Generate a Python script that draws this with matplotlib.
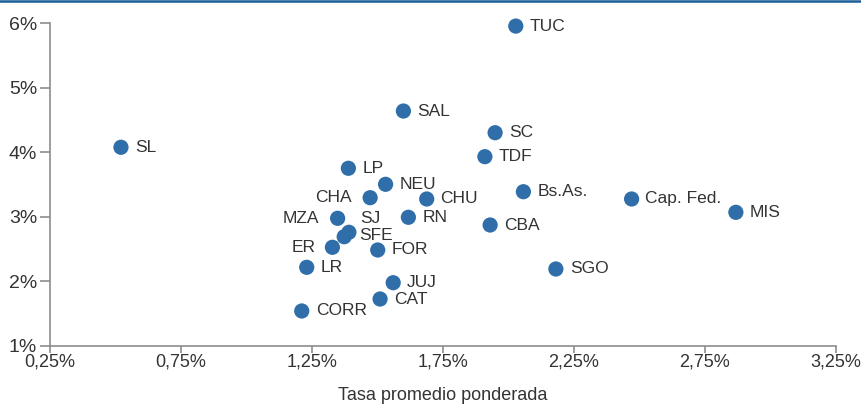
import matplotlib
matplotlib.use("Agg")
import matplotlib.pyplot as plt
from matplotlib.lines import Line2D

plt.rcParams['font.family'] = ['Liberation Sans Narrow', 'Liberation Sans', 'DejaVu Sans']

labels = ["TUC", "SAL", "SC", "TDF", "SL", "LP", "NEU", "CHA", "CHU", "Bs.As.",
          "Cap. Fed.", "MIS", "MZA", "RN", "CBA", "SJ", "SFE", "ER", "FOR", "LR",
          "SGO", "JUJ", "CAT", "CORR"]
tasa = [2.029, 1.600, 1.950, 1.911, 0.522, 1.390, 1.532, 1.473, 1.689, 2.058,
        2.471, 2.869, 1.349, 1.619, 1.931, 1.392, 1.374, 1.329, 1.502, 1.231,
        2.182, 1.561, 1.511, 1.212]
yval = [5.96, 4.641, 4.304, 3.932, 4.078, 3.752, 3.503, 3.295, 3.275, 3.388,
        3.275, 3.068, 2.975, 2.991, 2.871, 2.758, 2.689, 2.525, 2.483, 2.214,
        2.188, 1.975, 1.722, 1.536]

xticks = [0.25, 0.75, 1.25, 1.75, 2.25, 2.75, 3.25]
xticklabels = ["0,25%", "0,75%", "1,25%", "1,75%", "2,25%", "2,75%", "3,25%"]
yticks = [1, 2, 3, 4, 5, 6]
yticklabels = ["1%", "2%", "3%", "4%", "5%", "6%"]
xlabel = "Tasa promedio ponderada"

# label offsets (points): default right of the dot
offsets = {"MZA": (-13, 0, "right"), "CHA": (-13, 0, "right"), "ER": (-12, 0, "right"),
           "SJ": (8, 10, "left"), "SFE": (11, 1, "left")}

fig = plt.figure(figsize=(8.62, 4.08), dpi=100)
ax = fig.add_axes([49.7/862, 1-345.5/408, (835.7-49.7)/862, (345.5-23.5)/408])

ax.scatter(tasa, yval, s=120, color="#2f6ea8", edgecolors="none", zorder=3, clip_on=False)
txtc = "#333333"
for lab, x, y in zip(labels, tasa, yval):
    dx, dy, ha = offsets.get(lab, (10, 0, "left"))
    ax.annotate(lab, (x, y), xytext=(dx, dy), textcoords="offset points",
                ha=ha, va="center", fontsize=12.5, color=txtc)

ax.set_xlim(0.25, 3.25)
ax.set_ylim(1, 6)
ax.set_xticks(xticks)
ax.set_xticklabels(xticklabels)
ax.set_yticks(yticks)
ax.set_yticklabels(yticklabels)
ax.set_xlabel(xlabel, fontsize=13, color=txtc, labelpad=12)

axc = "#8c8c8c"
for s in ["top", "right"]:
    ax.spines[s].set_visible(False)
for s in ["left", "bottom"]:
    ax.spines[s].set_color(axc)
    ax.spines[s].set_linewidth(1.2)
ax.tick_params(axis="y", length=7, width=1.2, color=axc, labelsize=14, labelcolor=txtc, pad=2)
ax.tick_params(axis="x", length=5, width=1.2, color=axc, labelsize=13, labelcolor=txtc, pad=1)

fig.add_artist(Line2D([0, 1], [1-1.2/408, 1-1.2/408], color="#1b5d99", linewidth=1.8,
                      transform=fig.transFigure))

fig.savefig("out.png", dpi=100)
